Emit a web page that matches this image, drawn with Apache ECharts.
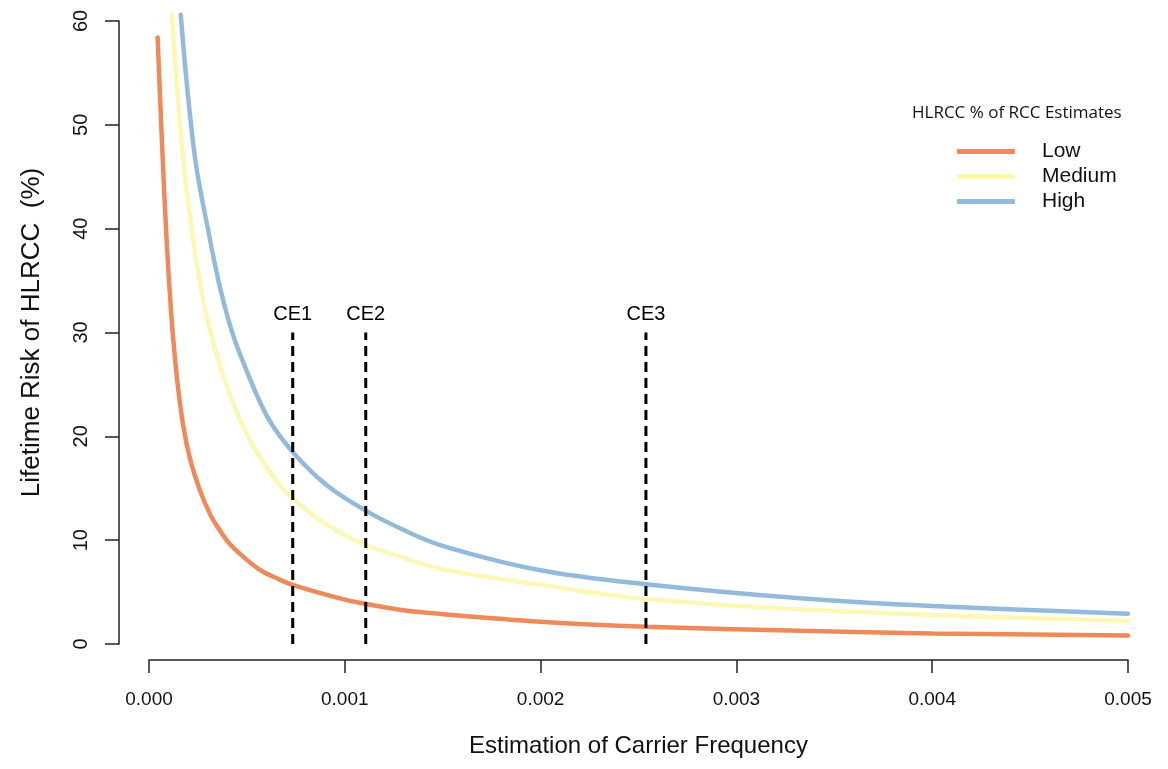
<!DOCTYPE html>
<html>
<head>
<meta charset="utf-8">
<title>Lifetime Risk of HLRCC</title>
<script src="https://cdn.jsdelivr.net/npm/echarts@6/dist/echarts.min.js"></script>
<style>
  html, body { margin: 0; padding: 0; background: #fff; }
  #chart { width: 1168px; height: 769px; }
</style>
</head>
<body>
<div id="chart"></div>
<script>
// values: [carrier frequency, lifetime risk %]
var lowPts = [
  [0.000044, 58.4], [0.000068, 47.6], [0.00009, 38.9], [0.000116, 31.2],
  [0.000143, 25.6], [0.000175, 21.0], [0.00021, 17.8], [0.00026, 14.8],
  [0.000312, 12.5], [0.000363, 10.9], [0.000414, 9.6], [0.0005, 8.1],
  [0.00057, 7.1], [0.00065, 6.35], [0.000734, 5.7], [0.000975, 4.4],
  [0.00111, 3.85], [0.00128, 3.3], [0.00149, 2.9], [0.002, 2.15],
  [0.00254, 1.67], [0.00333, 1.27], [0.004, 1.02], [0.005, 0.82]
];
var mediumPts = [
  [0.000116, 60.6], [0.000172, 47.2], [0.000226, 38.9], [0.000277, 33.1],
  [0.000312, 30.2], [0.00038, 25.8], [0.000499, 20.2], [0.000635, 16.1],
  [0.000734, 14.0], [0.000908, 11.5], [0.001107, 9.53], [0.001282, 8.41],
  [0.001486, 7.25], [0.002, 5.7], [0.002538, 4.33], [0.003325, 3.34],
  [0.004, 2.8], [0.005, 2.21]
];
var highPts = [
  [0.000162, 60.6], [0.000233, 47.1], [0.000312, 38.9], [0.000363, 34.3],
  [0.000412, 30.8], [0.000465, 27.9], [0.000601, 22.0], [0.000734, 18.5],
  [0.000908, 15.3], [0.001107, 12.84], [0.001282, 11.14], [0.001486, 9.53],
  [0.002, 7.1], [0.002538, 5.75], [0.003325, 4.4], [0.004, 3.65],
  [0.005, 2.92]
];
var ceNames = ['CE1', 'CE2', 'CE3'];
var ceX = [0.000734, 0.001107, 0.002538];
var ceTop = 30;
var xTicks = [0, 0.005, 0.001];   // min, max, step
var yTicks = [0, 60, 10];

var seriesNames = ['Low', 'Medium', 'High'];
var seriesColors = ['#EE8A5A', '#FBF7B5', '#93BADA'];

var chart = echarts.init(document.getElementById('chart'));

var series = [lowPts, mediumPts, highPts].map(function (pts, i) {
  return {
    name: seriesNames[i],
    type: 'line',
    data: pts,
    smooth: 0.35,
    showSymbol: false,
    symbol: 'none',
    clip: false,
    color: seriesColors[i],
    lineStyle: { width: 4.5, color: seriesColors[i], cap: 'round' },
    silent: true
  };
});

// dashed CE markers
ceX.forEach(function (x, i) {
  series.push({
    name: ceNames[i],
    type: 'line',
    data: [[x, 0], [x, ceTop]],
    symbol: 'none',
    lineStyle: { color: '#000', width: 3, type: [10, 6] },
    silent: true
  });
  series.push({
    name: ceNames[i] + ' label',
    type: 'scatter',
    data: [[x, ceTop]],
    symbolSize: 1,
    itemStyle: { color: 'rgba(0,0,0,0)', opacity: 1 },
    label: {
      show: true,
      position: 'top',
      distance: 8,
      formatter: ceNames[i],
      color: '#000',
      fontSize: 20,
      fontFamily: 'Liberation Sans, Arial, sans-serif'
    },
    silent: true
  });
});

chart.setOption({
  animation: false,
  backgroundColor: '#fff',
  title: {
    text: 'HLRCC % of RCC Estimates',
    left: 912,
    top: 105,
    padding: 0,
    textStyle: { fontSize: 17, fontWeight: 'normal', color: '#111', fontFamily: 'Open Sans, sans-serif' }
  },
  legend: {
    data: seriesNames,
    orient: 'vertical',
    left: 957,
    top: 141,
    padding: 0,
    icon: 'roundRect',
    itemWidth: 58,
    itemHeight: 5,
    itemGap: 4,
    selectedMode: false,
    textStyle: {
      fontSize: 21,
      lineHeight: 21,
      color: '#111',
      fontFamily: 'Liberation Sans, Arial, sans-serif',
      padding: [0, 0, 0, 22]
    }
  },
  grid: { left: 149, right: 40, top: 21, bottom: 125 },
  xAxis: {
    type: 'value',
    min: xTicks[0],
    max: xTicks[1],
    interval: xTicks[2],
    offset: 16,
    name: 'Estimation of Carrier Frequency',
    nameLocation: 'middle',
    nameGap: 74,
    nameTextStyle: { fontSize: 24, color: '#111', fontFamily: 'Liberation Sans, Arial, sans-serif' },
    axisLine: { show: true, onZero: false, lineStyle: { color: '#222', width: 1.5 } },
    axisTick: { show: true, length: 13, lineStyle: { color: '#222', width: 1.5 } },
    axisLabel: {
      margin: 30,
      fontSize: 19,
      color: '#111',
      fontFamily: 'Liberation Sans, Arial, sans-serif',
      formatter: function (v) { return v.toFixed(3); }
    },
    splitLine: { show: false }
  },
  yAxis: {
    type: 'value',
    min: yTicks[0],
    max: yTicks[1],
    interval: yTicks[2],
    offset: 30,
    name: 'Lifetime Risk of HLRCC  (%)',
    nameLocation: 'middle',
    nameGap: 74,
    nameTextStyle: { fontSize: 26, color: '#111', fontFamily: 'Liberation Sans, Arial, sans-serif' },
    axisLine: { show: true, onZero: false, lineStyle: { color: '#222', width: 1.5 } },
    axisTick: { show: true, length: 14, lineStyle: { color: '#222', width: 1.5 } },
    axisLabel: {
      rotate: 90,
      margin: 28,
      fontSize: 20,
      color: '#111',
      fontFamily: 'Liberation Sans, Arial, sans-serif'
    },
    splitLine: { show: false }
  },
  series: series
});
</script>
</body>
</html>
